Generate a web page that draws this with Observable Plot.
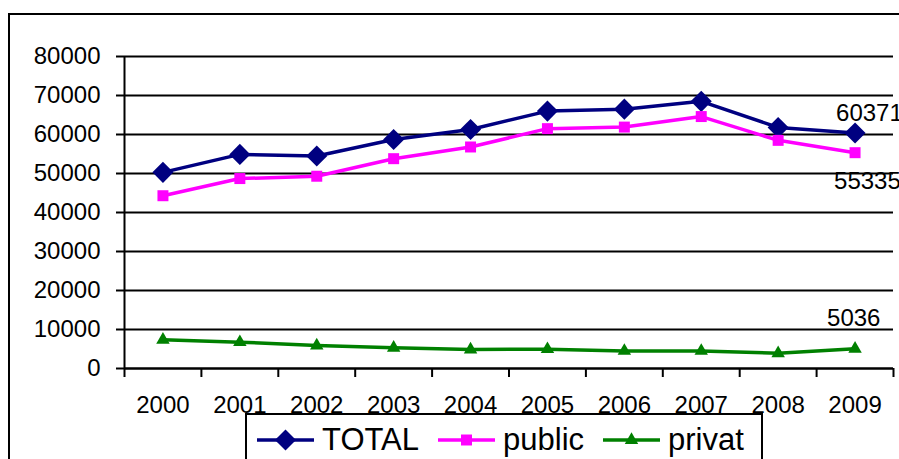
<!DOCTYPE html>
<html>
<head>
<meta charset="utf-8">
<script src="https://cdn.jsdelivr.net/npm/d3@7"></script>
<script src="https://cdn.jsdelivr.net/npm/@observablehq/plot@0.6"></script>
<style>
  html, body { margin: 0; padding: 0; background: #fff; overflow: hidden; }
  #wrap { position: relative; width: 899px; height: 459px; overflow: hidden; background: #fff; }
  #frame { position: absolute; left: 8px; top: 13px; width: 1200px; height: 1200px; border-left: 2px solid #000; border-top: 2px solid #000; }
  #chart { position: absolute; left: 0; top: 0; }
  #legend { position: absolute; left: 245px; top: 413px; width: 518px; height: 80px; border: 2px solid #000; background: #fff;
            font-family: "Liberation Sans", Arial, sans-serif; font-size: 31px; display: flex; align-items: flex-start; padding-top: 8px; box-sizing: border-box; padding-left: 10px; }
  .item { display: flex; align-items: center; height: 33px; margin-right: 19px; }
  .item svg { margin-right: 8px; }
</style>
</head>
<body>
<div id="wrap">
  <div id="frame"></div>
  <div id="chart"></div>
  <div id="legend"></div>
</div>
<script>
const years = [2000, 2001, 2002, 2003, 2004, 2005, 2006, 2007, 2008, 2009];
const total = [50300, 54900, 54500, 58700, 61300, 66000, 66500, 68500, 61800, 60371];
const publicVals = [44300, 48700, 49300, 53800, 56800, 61500, 61900, 64600, 58500, 55335];
const privat = [7350, 6750, 5900, 5300, 4870, 4950, 4500, 4500, 3900, 5036];
const seriesNames = ["TOTAL", "public", "privat"];
const seriesColors = ["#000080", "#FF00FF", "#008000"];
const seriesSymbols = ["diamond2", "square", "triangle"];
const yTicks = [0, 10000, 20000, 30000, 40000, 50000, 60000, 70000, 80000];
const lastLabels = ["60371", "55335", "5036"];

const seriesValues = [total, publicVals, privat];
const rows = seriesNames.flatMap((s, i) => years.map((yr, j) => ({series: s, year: yr, value: seriesValues[i][j]})));
const xDomain = [years[0] - 0.5, years[years.length - 1] + 0.5];
const boundaries = [...years.map(y => y - 0.5), years[years.length - 1] + 0.5];
const markerR = {TOTAL: 9.5, public: 6.2, privat: 5};
const labelRows = seriesNames.map((s, i) => ({series: s, year: years[years.length - 1], value: seriesValues[i][years.length - 1], label: lastLabels[i]}));
const labelOffsets = [{dx: -19, dy: -20}, {dx: -21, dy: 29}, {dx: -28, dy: -31}];

const marks = [
  Plot.gridY(yTicks, {stroke: "#000", strokeOpacity: 1, strokeWidth: 2}),
  Plot.axisY({ticks: yTicks, tickSize: 8, tickPadding: 16, tickFormat: d => String(d), strokeWidth: 2, label: null, fontSize: 24}),
  Plot.ruleX([xDomain[0]], {stroke: "#000", strokeWidth: 2}),
  Plot.ruleY([0], {stroke: "#000", strokeWidth: 2}),
  Plot.axisX({ticks: boundaries, tickSize: 9, tickFormat: () => "", strokeWidth: 2, label: null}),
  Plot.text(years, {x: d => d, frameAnchor: "bottom", dy: 37, lineAnchor: "middle", text: d => String(d), fontSize: 24, fill: "#000"})
];
seriesNames.forEach((s, i) => {
  const data = rows.filter(r => r.series === s);
  marks.push(Plot.line(data, {x: "year", y: "value", stroke: seriesColors[i], strokeWidth: 3.5}));
  marks.push(Plot.dot(data, {x: "year", y: "value", fill: seriesColors[i], stroke: "none", symbol: seriesSymbols[i], r: markerR[s]}));
  marks.push(Plot.text([labelRows[i]], {x: "year", y: "value", text: "label", textAnchor: "start", dx: labelOffsets[i].dx, dy: labelOffsets[i].dy, fontSize: 24, fill: "#000"}));
});

const chart = Plot.plot({
  width: 899,
  height: 459,
  marginLeft: 124,
  marginRight: 6,
  marginTop: 56,
  marginBottom: 91,
  style: {fontFamily: "'Liberation Sans', Arial, sans-serif", fontSize: "24px", background: "transparent", overflow: "visible"},
  x: {type: "linear", domain: xDomain, axis: null},
  y: {domain: [0, 80000], axis: null},
  marks
});
document.getElementById("chart").appendChild(chart);

// legend
const legend = d3.select("#legend");
seriesNames.forEach((s, i) => {
  const item = legend.append("div").attr("class", "item");
  const svg = item.append("svg").attr("width", 57).attr("height", 24);
  svg.append("line").attr("x1", 0).attr("x2", 57).attr("y1", 12).attr("y2", 12).attr("stroke", seriesColors[i]).attr("stroke-width", 3.5);
  const sym = {diamond2: d3.symbolDiamond2, square: d3.symbolSquare, triangle: d3.symbolTriangle}[seriesSymbols[i]];
  svg.append("path").attr("transform", "translate(28.5,12)").attr("d", d3.symbol(sym, Math.PI * markerR[s] * markerR[s])()).attr("fill", seriesColors[i]);
  item.append("span").text(s);
});
</script>
</body>
</html>
